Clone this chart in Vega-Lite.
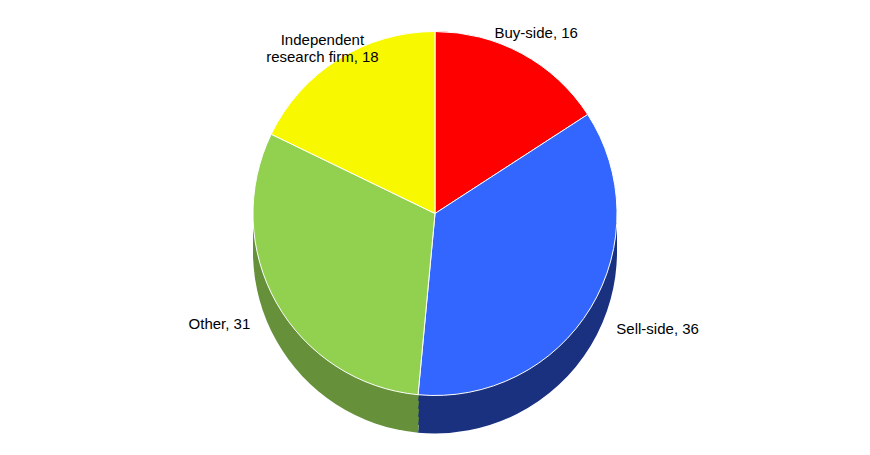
{
  "$schema": "https://vega.github.io/schema/vega-lite/v6.json",
  "width": 870,
  "height": 455,
  "autosize": {"type": "fit", "contains": "padding"},
  "padding": 0,
  "background": "white",
  "config": {"view": {"stroke": null}, "font": "Liberation Sans"},
  "data": {
    "values": [
      {"category": "Buy-side", "value": 16, "label": "Buy-side, 16", "rank": 1},
      {"category": "Sell-side", "value": 36, "label": "Sell-side, 36", "rank": 2},
      {"category": "Other", "value": 31, "label": "Other, 31", "rank": 3},
      {"category": "Independent research firm", "value": 18, "label": "Independent\nresearch firm, 18", "rank": 4}
    ]
  },
  "encoding": {
    "theta": {"field": "value", "type": "quantitative", "stack": true},
    "order": {"field": "rank", "type": "quantitative"}
  },
  "layer": [
    {
      "mark": {"type": "arc", "outerRadius": 182, "yOffset": 24},
      "encoding": {"color": {"field": "category", "type": "nominal", "legend": null,
        "scale": {"domain": ["Buy-side", "Sell-side", "Other", "Independent research firm"], "range": ["#A00000", "#1A3180", "#66903A", "#B0B000"]}}}
    },
    {
      "mark": {"type": "arc", "outerRadius": 182, "yOffset": 16},
      "encoding": {"color": {"field": "category", "type": "nominal", "legend": null,
        "scale": {"domain": ["Buy-side", "Sell-side", "Other", "Independent research firm"], "range": ["#A00000", "#1A3180", "#66903A", "#B0B000"]}}}
    },
    {
      "mark": {"type": "arc", "outerRadius": 182, "yOffset": 8},
      "encoding": {"color": {"field": "category", "type": "nominal", "legend": null,
        "scale": {"domain": ["Buy-side", "Sell-side", "Other", "Independent research firm"], "range": ["#A00000", "#1A3180", "#66903A", "#B0B000"]}}}
    },
    {
      "mark": {"type": "arc", "outerRadius": 182, "yOffset": 0},
      "encoding": {"color": {"field": "category", "type": "nominal", "legend": null,
        "scale": {"domain": ["Buy-side", "Sell-side", "Other", "Independent research firm"], "range": ["#A00000", "#1A3180", "#66903A", "#B0B000"]}}}
    },
    {
      "mark": {"type": "arc", "outerRadius": 182, "yOffset": -8},
      "encoding": {"color": {"field": "category", "type": "nominal", "legend": null,
        "scale": {"domain": ["Buy-side", "Sell-side", "Other", "Independent research firm"], "range": ["#A00000", "#1A3180", "#66903A", "#B0B000"]}}}
    },
    {
      "mark": {"type": "arc", "outerRadius": 182, "yOffset": -14, "stroke": "#ffffff", "strokeWidth": 1},
      "encoding": {"color": {"field": "category", "type": "nominal", "legend": null,
        "scale": {"domain": ["Buy-side", "Sell-side", "Other", "Independent research firm"], "range": ["#FF0000", "#3366FF", "#92D050", "#F8F800"]}}}
    },
    {
      "mark": {"type": "text", "radius": 212, "yOffset": -8, "fontSize": 15, "lineBreak": "\n", "color": "#000000",
        "align": {"expr": "datum.category == 'Sell-side' ? 'left' : datum.category == 'Other' ? 'right' : 'center'"}},
      "encoding": {"text": {"field": "label", "type": "nominal"}}
    }
  ],
  "resolve": {"scale": {"color": "independent"}}
}
